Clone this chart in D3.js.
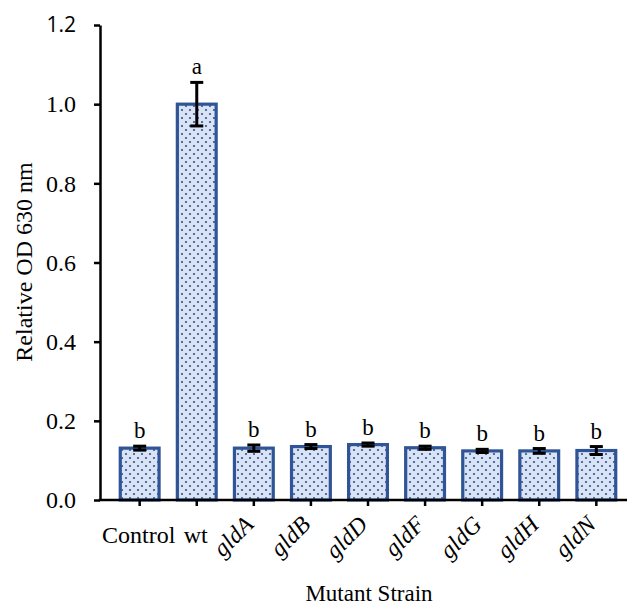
<!DOCTYPE html>
<html>
<head>
<meta charset="utf-8">
<script src="https://cdn.jsdelivr.net/npm/d3@7"></script>
<style>
  body { margin: 0; background: #fff; }
  svg, svg text { font-family: "Liberation Serif", "DejaVu Serif", serif; fill: #000; }
</style>
</head>
<body>
<svg width="627" height="606"></svg>
<script>
// data
var strains = ["Control", "wt", "gldA", "gldB", "gldD", "gldF", "gldG", "gldH", "gldN"];
var italicLabel = [false, false, true, true, true, true, true, true, true];
var means = [0.131, 1.0, 0.131, 0.135, 0.140, 0.132, 0.124, 0.124, 0.125];
var errs = [0.005, 0.055, 0.008, 0.005, 0.004, 0.004, 0.004, 0.006, 0.010];
var letters = ["b", "a", "b", "b", "b", "b", "b", "b", "b"];
var yTicks = [0.0, 0.2, 0.4, 0.6, 0.8, 1.0, 1.2];

var serif = "'Liberation Serif', 'DejaVu Serif', serif";
var svg = d3.select("svg");

var x = d3.scaleBand()
    .domain(strains)
    .range([102, 634])
    .padding(0.32);

var y = d3.scaleLinear()
    .domain([0, 1.2])
    .range([500, 25]);

// dotted fill
var defs = svg.append("defs");
var pat = defs.append("pattern")
    .attr("id", "dots")
    .attr("patternUnits", "userSpaceOnUse")
    .attr("width", 8).attr("height", 8);
pat.append("rect").attr("width", 8).attr("height", 8).attr("fill", "#dae3f3");
pat.append("circle").attr("cx", 2).attr("cy", 2).attr("r", 1.1).attr("fill", "#2f5597");
pat.append("circle").attr("cx", 6).attr("cy", 6).attr("r", 1.1).attr("fill", "#2f5597");

// bars
svg.selectAll(".bar")
    .data(strains)
  .enter().append("rect")
    .attr("class", "bar")
    .attr("x", function(d) { return x(d); })
    .attr("width", x.bandwidth())
    .attr("y", function(d, i) { return y(means[i]); })
    .attr("height", function(d, i) { return y(0) - y(means[i]); })
    .attr("fill", "url(#dots)")
    .attr("stroke", "#2f5597")
    .attr("stroke-width", 3.2);

// error bars
var eb = svg.selectAll(".err")
    .data(strains)
  .enter().append("g")
    .attr("class", "err")
    .attr("stroke", "#000")
    .attr("stroke-width", 3);
eb.append("line")
    .attr("x1", function(d) { return x(d) + x.bandwidth() / 2; })
    .attr("x2", function(d) { return x(d) + x.bandwidth() / 2; })
    .attr("y1", function(d, i) { return y(means[i] + errs[i]); })
    .attr("y2", function(d, i) { return y(means[i] - errs[i]); });
[1, -1].forEach(function(s) {
  eb.append("line")
      .attr("x1", function(d) { return x(d) + x.bandwidth() / 2 - 6.5; })
      .attr("x2", function(d) { return x(d) + x.bandwidth() / 2 + 6.5; })
      .attr("y1", function(d, i) { return y(means[i] + s * errs[i]); })
      .attr("y2", function(d, i) { return y(means[i] + s * errs[i]); });
});

// significance letters
svg.selectAll(".letter")
    .data(strains)
  .enter().append("text")
    .attr("class", "letter")
    .attr("x", function(d) { return x(d) + x.bandwidth() / 2; })
    .attr("y", function(d, i) { return y(means[i] + errs[i]) - 8; })
    .attr("text-anchor", "middle")
    .style("font-family", serif)
    .style("font-size", "23px")
    .text(function(d, i) { return letters[i]; });

// y axis
var yAxis = svg.append("g")
    .attr("transform", "translate(100,0)")
    .call(d3.axisLeft(y).tickValues(yTicks).tickSize(6).tickSizeOuter(0)
        .tickFormat(d3.format(".1f")))
    .attr("font-family", null)
    .attr("font-size", null);
yAxis.select(".domain").attr("stroke-width", 2.5);
yAxis.selectAll(".tick line").attr("stroke-width", 2.5);
yAxis.selectAll(".tick text")
    .attr("x", -24)
    .style("font-size", function(d) { return d === 1.2 ? "21px" : "24px"; })
    .style("font-family", function(d) { return d === 1.2 ? "'Open Sans', sans-serif" : serif; });

// x axis
var xAxis = svg.append("g")
    .attr("transform", "translate(0,500)")
    .call(d3.axisBottom(x).tickSize(6).tickSizeOuter(0));
xAxis.select(".domain").attr("d", "M98.75,0H627").attr("stroke-width", 2.5);
xAxis.selectAll(".tick line").attr("stroke-width", 2.5);
xAxis.selectAll(".tick text").remove();

svg.selectAll(".xlab")
    .data(strains)
  .enter().append("text")
    .attr("class", "xlab")
    .style("font-family", serif)
    .style("font-size", "24px")
    .style("font-style", function(d, i) { return italicLabel[i] ? "italic" : "normal"; })
    .attr("text-anchor", function(d, i) { return italicLabel[i] ? "end" : "middle"; })
    .attr("transform", function(d, i) {
      var cx = x(d) + x.bandwidth() / 2;
      return italicLabel[i]
        ? "translate(" + (cx + 1) + ",526) rotate(-45)"
        : "translate(" + (cx - 1) + ",543)";
    })
    .text(function(d) { return d; });

// axis titles
svg.append("text")
    .attr("transform", "translate(32,262) rotate(-90)")
    .attr("text-anchor", "middle")
    .style("font-family", serif)
    .style("font-size", "24px")
    .text("Relative OD 630 nm");

svg.append("text")
    .attr("x", 369)
    .attr("y", 601)
    .attr("text-anchor", "middle")
    .style("font-family", serif)
    .style("font-size", "23px")
    .text("Mutant Strain");
</script>
</body>
</html>
